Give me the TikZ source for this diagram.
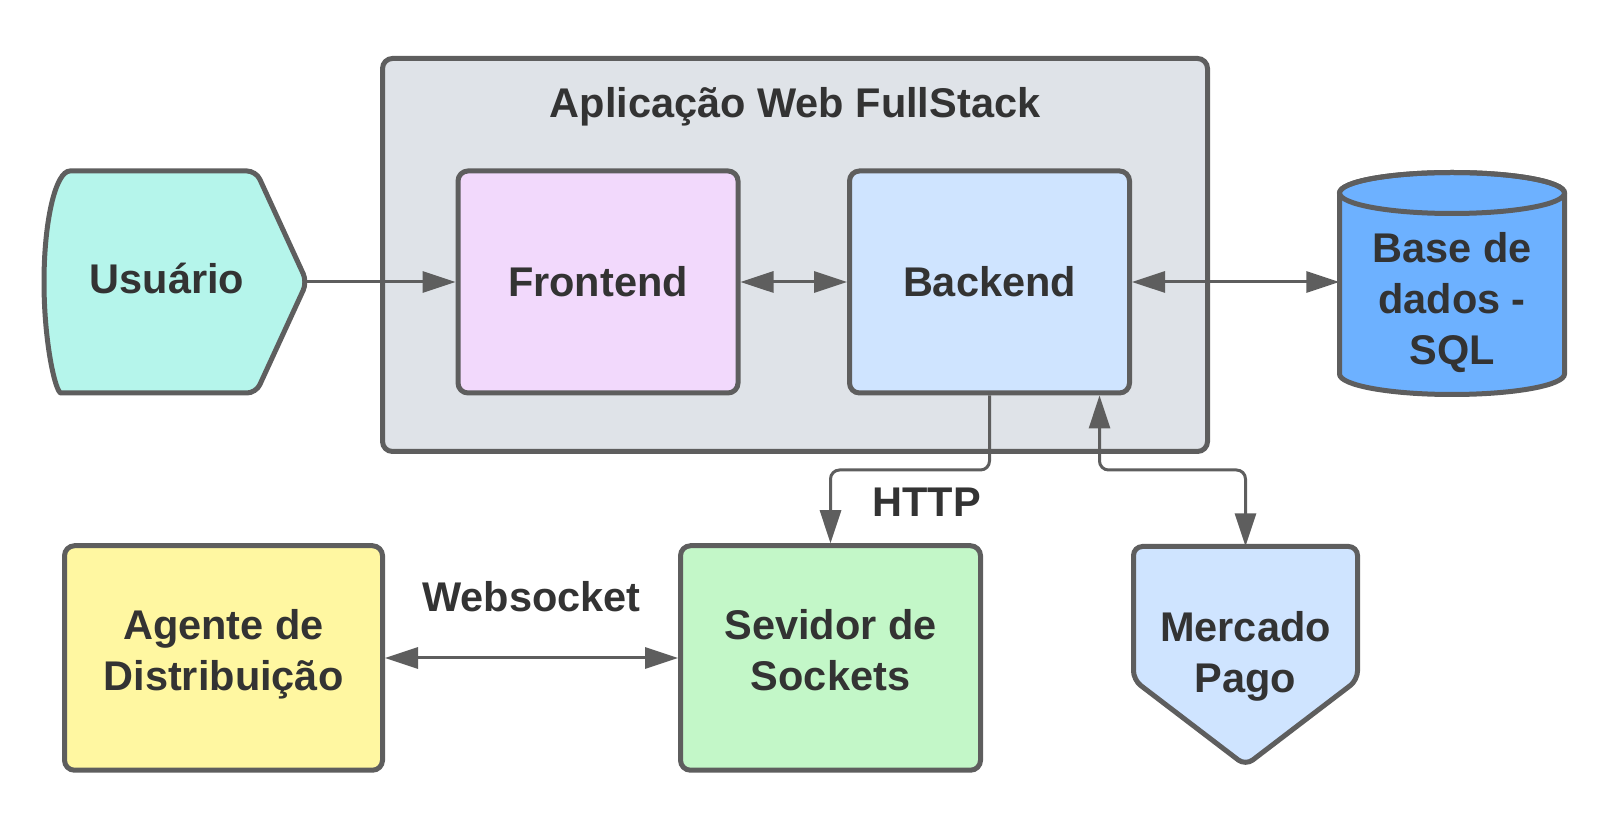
\documentclass[tikz,border=0pt]{standalone}
\usepackage{fontspec}
\setmainfont{Liberation Sans}
\usepackage{xcolor}
\usetikzlibrary{arrows.meta,calc}

\definecolor{linegray}{HTML}{5E5E5E}
\definecolor{textgray}{HTML}{333333}
\definecolor{appgray}{HTML}{DFE3E8}
\definecolor{frontpink}{HTML}{F2D9FC}
\definecolor{backblue}{HTML}{CFE4FF}
\definecolor{usermint}{HTML}{B5F5EB}
\definecolor{dbblue}{HTML}{6DB1FF}
\definecolor{agentyellow}{HTML}{FFF7A1}
\definecolor{servergreen}{HTML}{C3F7C8}

\tikzset{
  lbl/.style={font=\fontsize{41.5}{51}\selectfont\bfseries,
              text=textgray, align=center, inner sep=0pt},
  box/.style={lbl, draw=linegray, line width=5pt, rounded corners=10pt},
  shapeline/.style={draw=linegray, line width=5pt, rounded corners=9pt},
  link/.style={draw=linegray, line width=3pt, rounded corners=9pt},
}

\begin{document}
\begin{tikzpicture}[x=1pt,y=1pt]
\useasboundingbox (0,0) rectangle (1601,838);
\begin{scope}[>={Triangle[length=33pt,width=21pt]}]
    % application frame
    \node[box, fill=appgray, minimum width=825pt, minimum height=393pt]
         (app) at (795,583) {};
    \node[lbl] (apptitle) at (795,731) {Aplicação Web FullStack};

    \node[box, fill=frontpink, minimum width=280pt, minimum height=222pt]
         (frontend) at (598,556) {Frontend};
    \node[box, fill=backblue, minimum width=280pt, minimum height=222pt]
         (backend) at (989.5,556) {Backend};

    % user
    \path[shapeline, fill=usermint] (70,667) -- (256,667) -- (307,556)
         -- (256,445) -- (70,445) [sharp corners] arc(270:90:26 and 111) -- cycle;
    \node[lbl, minimum width=280pt, minimum height=222pt, text depth=8pt]
         (usuario) at (167,556) {Usuário};

    % database
    \path[shapeline, rounded corners=0pt, fill=dbblue] (1339.5,645) -- (1339.5,464)
         arc(180:360:112.5 and 20.5) -- (1564.5,645) arc(0:180:112.5 and 20.5) -- cycle;
    \draw[linegray, line width=5pt] (1452,645) ellipse (112.5 and 20.5);
    \node[lbl, minimum width=225pt] (db) at (1452,535) {Base de\\dados -\\SQL};

    % bottom row
    \node[box, fill=agentyellow, minimum width=318pt, minimum height=224.5pt]
         (agente) at (223.5,180) {Agente de\\Distribuição\strut};
    \node[box, fill=servergreen, minimum width=300pt, minimum height=224.5pt]
         (servidor) at (830.5,180) {Sevidor de\\Sockets\strut};

    \path[shapeline, fill=backblue] (1245.5,72.5) -- (1133.5,158) -- (1133.5,291.5)
         -- (1357.5,291.5) -- (1357.5,158) -- cycle;
    \node[lbl, minimum width=224pt, minimum height=219pt]
         (mercado) at (1245.5,182) {Mercado\\Pago};

    % connectors
    \draw[link,->] (usuario.east) -- (frontend.west);
    \draw[link,<->] (frontend.east) -- (backend.west);
    \draw[link,<->] (backend.east) -- (backend.east -| db.west);

    \coordinate (bend) at (0,368);
    \draw[link,->] (backend.south) -- (backend.south |- bend) -| (servidor.north);
    \coordinate (payport) at ($(backend.south)+(110,0)$);
    \draw[link,<->] (payport) -- (payport |- bend) -| (mercado.north);
    \node[lbl] (httplbl) at (926.5,335.5) {HTTP};

    \draw[link,<->] (agente.east) -- (servidor.west);
    \node[lbl] (wslbl) at (531.5,241.5) {Websocket};
\end{scope}
\end{tikzpicture}
\end{document}
